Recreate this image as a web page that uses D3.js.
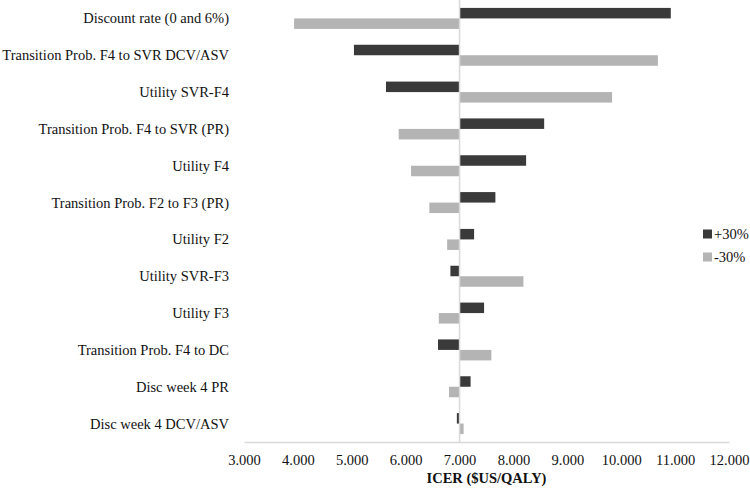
<!DOCTYPE html>
<html><head><meta charset="utf-8">
<script src="https://cdn.jsdelivr.net/npm/d3@7"></script>
<style>body{margin:0;background:#fff}svg{display:block}text{font-family:"Liberation Serif","Times New Roman",serif}</style>
</head><body>
<script>
const categories = ["Discount rate (0 and 6%)","Transition Prob. F4 to SVR DCV/ASV","Utility SVR-F4","Transition Prob. F4 to SVR (PR)","Utility F4","Transition Prob. F2 to F3 (PR)","Utility F2","Utility SVR-F3","Utility F3","Transition Prob. F4 to DC","Disc week 4 PR","Disc week 4 DCV/ASV"];
const plus30 = [10920, 5040, 5635, 8570, 8235, 7665, 7270, 6830, 7455, 6600, 7205, 6950];
const minus30 = [3930, 10680, 9830, 5870, 6100, 6440, 6770, 8185, 6615, 7590, 6805, 7075];
const baseValue = 7000;
const tickValues = [3000,4000,5000,6000,7000,8000,9000,10000,11000,12000];
const seriesNames = ["+30%","-30%"];
const colors = ["#3a3a3a","#b4b4b4"];

const W=750,H=488;
const svg=d3.select("body").append("svg").attr("width",W).attr("height",H);
const x=d3.scaleLinear().domain([3000,12000]).range([244,729]);
const y=d3.scaleBand().domain(categories).range([0,442]);
const barH=10.5;

// axis
const ax=svg.append("g").attr("transform","translate(0,442)")
  .call(d3.axisBottom(x).tickValues(tickValues).tickSize(0).tickPadding(13)
  .tickFormat(d=>d3.format(",")(d).replace(/,/g,".")));
ax.select(".domain").attr("stroke","#d9d9d9").attr("stroke-width",1.3);
ax.selectAll("text").attr("font-size",14.5).attr("fill","#111");

// bars
const g=svg.append("g");
g.selectAll(".p").data(categories).join("rect")
  .attr("x",(d,i)=>x(Math.min(plus30[i],baseValue)))
  .attr("width",(d,i)=>Math.abs(x(plus30[i])-x(baseValue)))
  .attr("y",d=>y(d)+y.bandwidth()/2-barH).attr("height",barH).attr("fill",colors[0]);
g.selectAll(".m").data(categories).join("rect")
  .attr("x",(d,i)=>x(Math.min(minus30[i],baseValue)))
  .attr("width",(d,i)=>Math.abs(x(minus30[i])-x(baseValue)))
  .attr("y",d=>y(d)+y.bandwidth()/2).attr("height",barH).attr("fill",colors[1]);

// baseline
svg.append("line").attr("x1",x(baseValue)).attr("x2",x(baseValue)).attr("y1",0).attr("y2",442)
  .attr("stroke","#d9d9d9").attr("stroke-width",1.5);

// category labels
svg.append("g").selectAll("text").data(categories).join("text")
  .attr("x",229).attr("y",d=>y(d)+y.bandwidth()/2).attr("dy","0.35em")
  .attr("text-anchor","end").attr("font-size",14.5).attr("fill","#111").text(d=>d);

// axis title
svg.append("text").attr("x",(x.range()[0]+x.range()[1])/2).attr("y",483)
  .attr("text-anchor","middle").attr("font-size",14.5).attr("font-weight","bold").attr("fill","#111")
  .text("ICER ($US/QALY)");

// legend
const lg=svg.append("g");
seriesNames.forEach((s,i)=>{
  const yy=234+i*23;
  lg.append("rect").attr("x",703).attr("y",yy-4.5).attr("width",9).attr("height",9).attr("fill",colors[i]);
  lg.append("text").attr("x",714).attr("y",yy).attr("dy","0.35em").attr("font-size",14.5).attr("fill","#111").text(s);
});
</script>
</body></html>
